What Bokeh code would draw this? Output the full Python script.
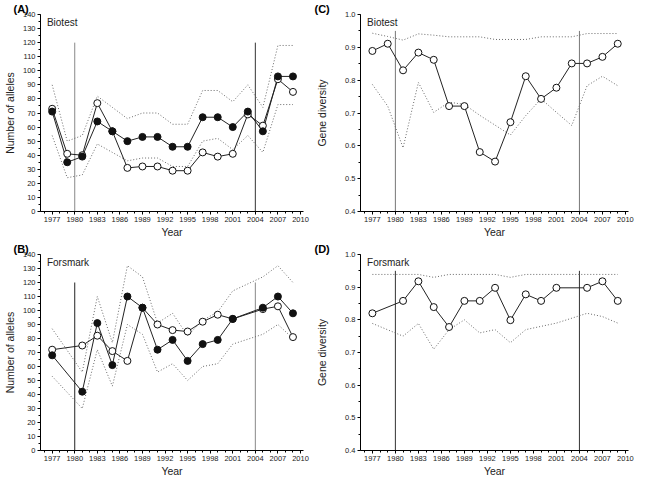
from bokeh.plotting import figure
from bokeh.layouts import column, row
from bokeh.models import Range1d, FixedTicker, Label, PrintfTickFormatter
from bokeh.embed import file_html
from bokeh.resources import INLINE

# ---------------- data ----------------
years_bio = [1977, 1979, 1981, 1983, 1985, 1987, 1989, 1991, 1993, 1995, 1997, 1999, 2001, 2003, 2005, 2007, 2009]
years_for = [1977, 1981, 1983, 1985, 1987, 1989, 1991, 1993, 1995, 1997, 1999, 2001, 2005, 2007, 2009]

# (A) Biotest - number of alleles
a_filled = [71, 35, 39, 64, 57, 50, 53, 53, 46, 46, 67, 67, 60, 71, 57, 96, 96]
a_open = [73, 41, 40, 77, 57, 31, 32, 32, 29, 29, 42, 39, 41, 69, 61, 94, 85]
a_upper = [90, 50, 54, 82, 74, 66, 70, 70, 62, 62, 86, 86, 78, 90, 74, 118, 118]
a_lower = [54, 24, 26, 48, 42, 36, 38, 38, 32, 32, 50, 52, 44, 54, 42, 76, 76]

# (B) Forsmark - number of alleles
b_filled = [68, 42, 91, 61, 110, 102, 72, 79, 64, 76, 79, 94, 102, 110, 98]
b_open = [72, 75, 82, 71, 64, 102, 90, 86, 85, 92, 97, 94, 101, 103, 81]
b_upper = [87, 56, 110, 77, 132, 124, 91, 98, 82, 93, 99, 114, 124, 132, 120]
b_lower = [53, 30, 72, 46, 90, 83, 56, 62, 50, 60, 62, 76, 83, 90, 80]

# (C) Biotest - gene diversity
c_open = [0.889, 0.911, 0.830, 0.884, 0.862, 0.721, 0.721, 0.581, 0.552, 0.672, 0.812, 0.743, 0.777, 0.851, 0.851, 0.871, 0.911]
c_upper = [0.943, 0.933, 0.922, 0.941, 0.937, 0.932, 0.932, 0.932, 0.924, 0.924, 0.924, 0.932, 0.932, 0.932, 0.942, 0.942, 0.942]
c_lower = [0.787, 0.721, 0.594, 0.793, 0.702, 0.733, 0.726, 0.693, 0.663, 0.633, 0.692, 0.743, 0.702, 0.662, 0.783, 0.812, 0.783]

# (D) Forsmark - gene diversity
d_open = [0.820, 0.858, 0.918, 0.839, 0.778, 0.858, 0.858, 0.898, 0.799, 0.878, 0.858, 0.898, 0.898, 0.918, 0.858]
d_upper = [0.939, 0.939, 0.939, 0.930, 0.939, 0.939, 0.939, 0.939, 0.930, 0.939, 0.939, 0.939, 0.939, 0.939, 0.939]
d_lower = [0.789, 0.750, 0.789, 0.710, 0.770, 0.800, 0.760, 0.770, 0.730, 0.770, 0.780, 0.790, 0.820, 0.810, 0.790]

event_years = [1980, 2004]
alleles_event_top = 120
diversity_event_top = 0.95

x_major = list(range(1977, 2011, 3))
x_minor = list(range(1975, 2011))
alleles_major = list(range(0, 141, 10))
alleles_minor = list(range(0, 141, 5))
div_major = [0.4, 0.5, 0.6, 0.7, 0.8, 0.9, 1.0]
div_minor = [round(0.4 + 0.05 * i, 2) for i in range(13)]

FONT = "Liberation Sans"


def make_panel(tag, site, ylabel, yr, ymaj, ymin, years, upper, lower, open_vals, filled_vals,
               event_top, event_colors, w, h, bl, br, yfmt_decimal, ylab_standoff):
    p = figure(width=w, height=h, output_backend="svg", toolbar_location=None,
               x_range=Range1d(1975.45, 2010.4), y_range=Range1d(*yr),
               min_border_left=bl, min_border_right=br, min_border_top=0, min_border_bottom=0,
               title=tag)
    p.title.text_font = FONT
    p.title.text_font_size = "11px"
    p.title.text_font_style = "bold"
    p.title.standoff = 0
    p.title.offset = -bl + 1
    p.title.text_color = "#000000"
    p.outline_line_color = None
    p.xgrid.visible = False
    p.ygrid.visible = False
    p.background_fill_color = "white"

    for ax in (p.xaxis[0], p.yaxis[0]):
        ax.axis_line_color = "#000000"
        ax.axis_line_width = 1
        ax.major_tick_in = 0
        ax.major_tick_out = 3
        ax.minor_tick_in = 0
        ax.minor_tick_out = 2
        ax.major_tick_line_color = "#000000"
        ax.minor_tick_line_color = "#000000"
        ax.major_label_text_font = FONT
        ax.major_label_text_font_size = "7.5px"
        ax.major_label_text_color = "#222222"
        ax.axis_label_text_font = FONT
        ax.axis_label_text_font_size = "10.5px"
        ax.axis_label_text_font_style = "normal"
        ax.axis_label_text_color = "#222222"
        ax.major_label_standoff = 2
    p.xaxis.ticker = FixedTicker(ticks=x_major, minor_ticks=x_minor)
    p.yaxis.ticker = FixedTicker(ticks=ymaj, minor_ticks=ymin)
    if yfmt_decimal:
        p.yaxis.formatter = PrintfTickFormatter(format="%.1f")
    p.xaxis.axis_label = "Year"
    p.yaxis.axis_label = ylabel
    p.xaxis.axis_label_standoff = 1
    p.yaxis.axis_label_standoff = ylab_standoff

    # event lines
    for ev, col in zip(event_years, event_colors):
        p.segment(x0=[ev], y0=[yr[0]], x1=[ev], y1=[event_top], line_color=col, line_width=1)

    # confidence bounds
    p.line(years, upper, line_color="#6a6a6a", line_dash="1 2", line_width=1)
    p.line(years, lower, line_color="#6a6a6a", line_dash="1 2", line_width=1)

    # series
    p.line(years, open_vals, line_color="#222222", line_width=1)
    if filled_vals is not None:
        p.line(years, filled_vals, line_color="#222222", line_width=1)
    p.scatter(years, open_vals, size=7, marker="circle", fill_color="white",
              line_color="#111111", line_width=1)
    if filled_vals is not None:
        p.scatter(years, filled_vals, size=7, marker="circle", fill_color="#111111",
                  line_color="#111111", line_width=1)

    lab = Label(x=1976.3, y=yr[1] - (yr[1] - yr[0]) * 0.07, text=site,
                text_font=FONT, text_font_size="10px", text_color="#222222")
    p.add_layout(lab)
    return p


pa = make_panel("(A)", "Biotest", "Number of alleles", (0, 140), alleles_major, alleles_minor,
                years_bio, a_upper, a_lower, a_open, a_filled, alleles_event_top,
                ["#888888", "#333333"], 313, 240, 28, 10, False, 4)
pb = make_panel("(B)", "Forsmark", "Number of alleles", (0, 140), alleles_major, alleles_minor,
                years_for, b_upper, b_lower, b_open, b_filled, alleles_event_top,
                ["#222222", "#888888"], 313, 239, 28, 10, False, 4)
pc = make_panel("(C)", "Biotest", "Gene diversity", (0.4, 1.0), div_major, div_minor,
                years_bio, c_upper, c_lower, c_open, None, diversity_event_top,
                ["#777777", "#777777"], 321, 240, 47, 6, True, 14)
pd_ = make_panel("(D)", "Forsmark", "Gene diversity", (0.4, 1.0), div_major, div_minor,
                 years_for, d_upper, d_lower, d_open, None, diversity_event_top,
                 ["#333333", "#333333"], 321, 239, 47, 6, True, 14)

layout = column(row(pa, pc), row(pb, pd_))
open("out.html", "w").write(file_html(layout, INLINE))
